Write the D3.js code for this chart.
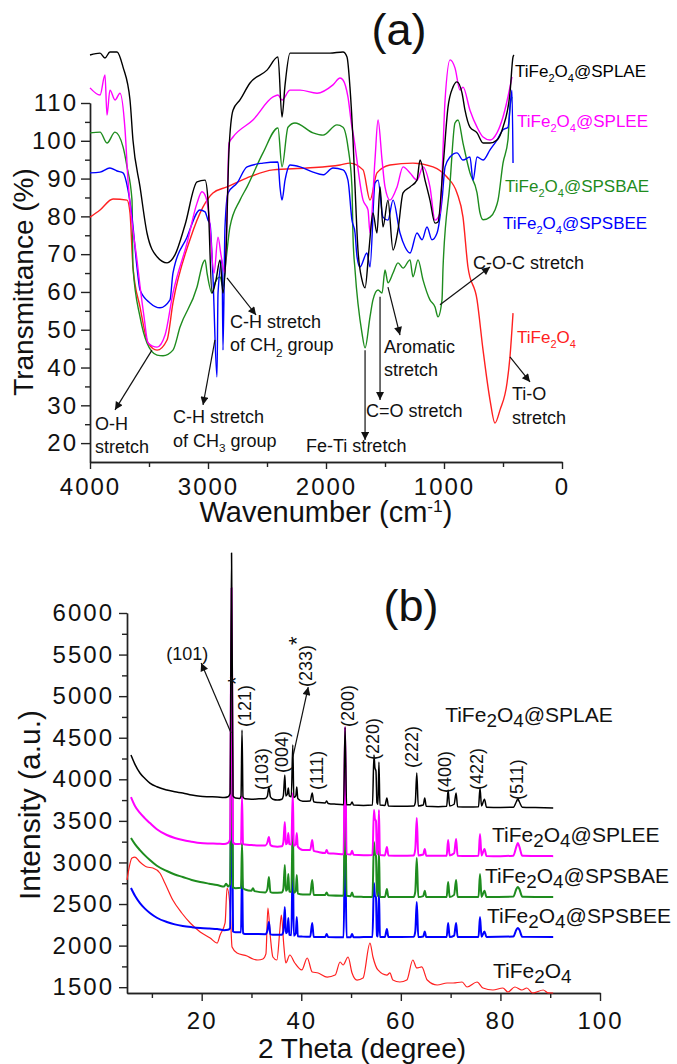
<!DOCTYPE html>
<html>
<head>
<meta charset="utf-8">
<script src="https://d3js.org/d3.v7.min.js"></script>
<style>
body { margin: 0; background: #fff; }
svg { display: block; font-family: "Liberation Sans", Arial, sans-serif; }
</style>
</head>
<body>
<svg id="chart" width="677" height="1064"></svg>
<script>
// ---------- (a) FTIR : [wavenumber (cm-1), transmittance (%)] ----------
const irSPLAE = [[4000,122.7],[3915,123.2],[3873,121.9],[3831,123.5],[3771,123.5],[3720,119.5],[3661,110.8],[3636,100.2],[3576,87.8],[3517,75.6],[3432,69.3],[3347,67.7],[3280,69.8],[3195,77.7],[3093,89.1],[3025,89.6],[3000,84.3],[2966,59.7],[2932,63.2],[2898,68.5],[2873,59.7],[2847,71.1],[2822,97.6],[2788,108.1],[2729,110.8],[2644,115.3],[2500,118.7],[2407,122.2],[2373,106.3],[2347,114.8],[2305,123.2],[2110,123.2],[1966,123.2],[1856,123.5],[1822,122.2],[1797,114.2],[1771,100.2],[1754,87.8],[1729,71.1],[1695,63.2],[1669,61.1],[1636,71.1],[1602,80.9],[1568,75.6],[1542,87.8],[1517,77.2],[1475,84.3],[1432,71.1],[1390,76.4],[1347,86.2],[1288,87.8],[1229,89.6],[1203,94.9],[1161,89.6],[1119,84.3],[1076,78.2],[1051,78.5],[1008,93.1],[966,108.9],[924,114.2],[890,115.6],[847,112.6],[822,108.1],[780,103.6],[720,102.1],[669,99.4],[610,99.4],[551,100.2],[500,103.6],[441,112.6],[415,122.2],[407,122.7]];
const irSPLEE = [[4000,114.0],[3915,112.1],[3873,117.4],[3856,106.8],[3831,113.4],[3788,110.8],[3746,112.6],[3703,102.9],[3678,89.6],[3636,76.4],[3602,68.5],[3576,61.5],[3542,53.4],[3508,46.5],[3432,45.4],[3364,48.6],[3297,59.7],[3178,72.9],[3093,83.5],[3051,86.5],[3017,85.0],[2992,80.4],[2949,65.0],[2915,74.5],[2890,69.8],[2856,65.0],[2839,80.1],[2822,99.4],[2788,101.0],[2619,105.5],[2449,111.6],[2407,112.1],[2373,110.8],[2305,113.4],[2220,113.4],[2076,112.6],[1941,114.8],[1881,116.6],[1856,116.1],[1814,111.6],[1780,103.6],[1771,102.1],[1686,84.3],[1644,81.7],[1627,75.6],[1585,94.9],[1559,105.5],[1525,94.9],[1500,87.8],[1458,84.3],[1398,87.8],[1347,93.1],[1288,91.5],[1229,89.6],[1178,93.1],[1119,87.8],[1076,79.0],[1034,80.9],[991,110.8],[949,121.4],[907,119.3],[864,113.4],[839,114.2],[780,108.1],[720,103.6],[669,101.0],[610,100.2],[551,102.1],[500,106.3],[441,114.2],[424,116.9]];
const irSPSBAE = [[4000,102.1],[3915,102.3],[3856,99.4],[3788,102.3],[3720,98.4],[3686,93.1],[3644,84.3],[3636,66.6],[3576,53.4],[3517,46.5],[3432,43.3],[3381,43.1],[3297,44.6],[3237,50.7],[3093,61.3],[3042,67.7],[3025,68.5],[3008,65.0],[2966,59.7],[2941,62.4],[2898,64.0],[2873,61.3],[2847,68.5],[2814,77.2],[2729,84.3],[2669,87.8],[2534,96.8],[2407,103.4],[2373,93.1],[2322,103.6],[2263,104.7],[2110,102.1],[2025,101.5],[1907,104.2],[1856,103.6],[1814,98.4],[1780,87.8],[1771,74.5],[1754,65.8],[1695,49.1],[1669,45.2],[1627,53.4],[1602,57.9],[1559,60.5],[1525,59.7],[1500,65.8],[1475,62.4],[1432,65.0],[1390,67.7],[1347,66.3],[1288,68.5],[1263,64.0],[1220,68.5],[1178,63.2],[1119,57.9],[1076,56.0],[1051,53.4],[1017,57.9],[1008,66.6],[949,88.8],[907,104.7],[881,105.5],[839,99.4],[780,91.5],[720,86.2],[695,80.9],[669,79.1],[610,79.8],[568,81.7],[542,84.3],[500,94.1],[458,100.2],[441,108.9],[424,111.6]];
const irSPSBEE = [[4000,91.5],[3915,91.7],[3831,92.8],[3771,92.0],[3720,91.5],[3678,87.0],[3644,79.8],[3602,66.6],[3576,60.5],[3492,57.1],[3407,55.8],[3322,57.9],[3297,65.0],[3178,74.5],[3068,81.7],[3025,81.2],[3000,79.0],[2983,78.0],[2958,64.0],[2924,37.5],[2915,59.7],[2881,68.5],[2873,44.6],[2856,77.2],[2830,86.2],[2754,88.8],[2669,93.1],[2534,94.1],[2407,94.4],[2390,87.8],[2373,84.3],[2347,89.6],[2305,93.6],[2220,93.1],[2110,91.7],[2025,91.0],[1941,92.8],[1856,92.3],[1814,89.6],[1780,79.0],[1754,75.6],[1737,69.3],[1712,66.6],[1653,70.3],[1627,66.6],[1585,88.8],[1559,89.6],[1517,79.8],[1475,79.0],[1432,84.3],[1373,75.6],[1330,71.9],[1288,70.3],[1229,75.6],[1186,73.8],[1144,77.2],[1102,73.8],[1059,75.6],[1017,84.3],[991,93.1],[949,95.7],[890,96.8],[839,94.9],[780,95.7],[754,89.6],[720,95.7],[669,94.9],[610,97.6],[551,100.2],[500,102.9],[458,103.6],[424,113.4],[415,94.1]];
const irTiFe2O4 = [[4000,79.8],[3915,81.7],[3805,84.6],[3686,84.3],[3661,80.9],[3636,66.6],[3576,56.0],[3508,46.5],[3432,44.6],[3347,47.3],[3297,57.1],[3153,73.8],[3042,82.5],[2958,86.2],[2839,87.8],[2669,90.2],[2449,92.3],[2161,92.8],[1881,93.6],[1797,94.1],[1686,92.3],[1627,84.3],[1568,91.5],[1458,93.6],[1263,94.1],[1093,93.1],[975,90.4],[890,86.2],[839,79.8],[797,66.6],[720,57.9],[669,44.6],[610,31.4],[568,25.3],[525,28.8],[466,35.9],[441,42.8],[415,54.4]];

const irXTicks = [4000, 3000, 2000, 1000, 0];
const irXMinor = [3500, 2500, 1500, 500];
const irYTicks = [20, 30, 40, 50, 60, 70, 80, 90, 100, 110];
const irYMinor = [25, 35, 45, 55, 65, 75, 85, 95, 105];

// ---------- (b) XRD : [2 theta (degree), intensity (a.u.)] ----------
const xrdSPLAE = [[5.8,4292],[6.6,4180],[7.6,4076],[8.6,4010],[9.6,3955],[11.0,3910],[13.0,3871],[14.6,3850],[16.2,3835],[18.0,3810],[19.7,3795],[21.5,3790],[23.1,3787],[24.5,3780],[25.3,3790],[25.7,3830],[26.0,6721],[26.3,3800],[26.8,3775],[27.6,3770],[27.9,3800],[28.1,4593],[28.3,3790],[28.7,3765],[30.0,3760],[31.5,3765],[32.8,3770],[33.2,3800],[33.5,3907],[33.8,3790],[34.3,3760],[35.2,3750],[36.1,3760],[36.4,3800],[36.7,4052],[36.9,3800],[37.2,3820],[37.4,3895],[37.6,3800],[38.0,3790],[38.3,4412],[38.5,3780],[38.9,3800],[39.1,3907],[39.3,3770],[40.3,3735],[41.8,3740],[42.2,3835],[42.5,3730],[43.5,3720],[44.8,3715],[45.1,3740],[45.4,3710],[47.0,3700],[48.5,3695],[48.8,4629],[49.1,3695],[49.9,3695],[50.2,3727],[50.5,3690],[52.5,3685],[54.3,3690],[54.6,4292],[54.8,4136],[55.0,4100],[55.2,3720],[55.4,3700],[55.6,4208],[55.8,3690],[56.8,3685],[57.2,3775],[57.5,3680],[60.0,3675],[62.6,3680],[62.9,3720],[63.2,4076],[63.5,3680],[64.5,3690],[64.8,3775],[65.1,3675],[67.5,3670],[69.2,3675],[69.5,3871],[69.8,3680],[70.7,3700],[71.1,3835],[71.4,3670],[73.5,3668],[75.6,3670],[75.9,3895],[76.2,3680],[76.8,3760],[77.2,3665],[80.0,3662],[82.6,3665],[83.2,3730],[83.5,3763],[83.8,3730],[84.4,3665],[87.0,3660],[90.6,3655]];
const xrdSPLEE = [[5.8,3787],[6.6,3680],[7.6,3595],[8.6,3530],[9.6,3474],[11.0,3400],[13.0,3330],[14.6,3295],[16.2,3270],[18.0,3250],[19.7,3234],[21.5,3228],[23.1,3226],[24.5,3222],[25.3,3235],[25.7,3280],[26.0,6300],[26.3,3240],[26.8,3222],[27.9,3225],[28.1,3800],[28.3,3225],[28.7,3215],[30.0,3210],[31.5,3205],[32.8,3205],[33.2,3240],[33.5,3306],[33.8,3210],[34.3,3195],[35.2,3190],[36.1,3195],[36.4,3240],[36.7,3486],[36.9,3220],[37.2,3240],[37.4,3354],[37.6,3220],[38.0,3215],[38.3,3835],[38.5,3200],[38.9,3220],[39.1,3354],[39.3,3190],[40.3,3150],[41.8,3150],[42.2,3270],[42.5,3140],[43.5,3125],[44.8,3114],[45.1,3150],[45.4,3110],[47.0,3105],[48.5,3100],[48.8,4629],[49.1,3100],[49.9,3095],[50.2,3140],[50.5,3092],[52.5,3088],[54.3,3090],[54.6,3630],[54.8,3520],[55.0,3500],[55.2,3110],[55.4,3100],[55.6,3630],[55.8,3090],[56.8,3085],[57.2,3186],[57.5,3085],[60.0,3082],[62.6,3085],[62.9,3160],[63.2,3535],[63.5,3085],[64.5,3095],[64.8,3162],[65.1,3082],[67.5,3080],[69.2,3082],[69.5,3270],[69.8,3085],[70.7,3110],[71.1,3282],[71.4,3080],[73.5,3078],[75.6,3080],[75.9,3342],[76.2,3085],[76.8,3162],[77.2,3078],[80.0,3076],[82.6,3082],[83.2,3190],[83.5,3234],[83.8,3190],[84.4,3080],[87.0,3078],[90.6,3076]];
const xrdSPSBAE = [[5.8,3294],[6.6,3220],[7.6,3149],[8.6,3085],[9.6,3029],[11.0,2960],[13.0,2897],[14.6,2855],[16.2,2825],[18.0,2790],[19.7,2765],[21.5,2745],[23.1,2729],[24.5,2710],[24.9,2745],[25.3,2712],[25.7,2740],[26.0,5200],[26.3,2700],[26.8,2690],[27.9,2695],[28.1,3234],[28.3,2690],[28.7,2675],[30.0,2660],[30.3,2690],[30.6,2655],[32.8,2640],[33.2,2680],[33.5,2825],[33.8,2645],[34.3,2635],[36.1,2640],[36.4,2680],[36.7,2969],[36.9,2660],[37.2,2680],[37.4,2861],[37.6,2650],[38.0,2645],[38.3,3500],[38.5,2635],[38.9,2660],[39.1,2849],[39.3,2625],[40.3,2615],[41.8,2615],[42.2,2789],[42.5,2610],[44.8,2608],[45.1,2640],[45.4,2606],[48.5,2600],[48.8,4000],[49.1,2600],[49.9,2595],[50.2,2640],[50.5,2590],[52.5,2586],[54.3,2584],[54.6,3246],[54.8,3100],[55.0,3080],[55.2,2600],[55.4,2600],[55.6,3150],[55.8,2584],[56.8,2584],[57.2,2680],[57.5,2584],[60.0,2584],[62.6,2586],[62.9,2650],[63.2,3053],[63.5,2584],[64.5,2595],[64.8,2660],[65.1,2584],[69.2,2584],[69.5,2765],[69.8,2584],[70.7,2610],[71.1,2789],[71.4,2584],[75.6,2584],[75.9,2861],[76.2,2586],[76.8,2660],[77.2,2584],[82.6,2590],[83.2,2680],[83.5,2705],[83.8,2680],[84.4,2588],[90.6,2584]];
const xrdSPSBEE = [[5.8,2693],[6.6,2600],[7.6,2512],[8.6,2445],[9.6,2392],[11.0,2335],[13.0,2284],[14.6,2255],[16.2,2236],[18.0,2222],[19.7,2212],[21.5,2205],[23.1,2200],[24.5,2185],[25.3,2190],[25.7,2210],[26.0,4300],[26.3,2170],[26.8,2160],[27.9,2160],[28.1,2900],[28.3,2150],[28.7,2140],[30.0,2140],[32.8,2138],[33.2,2180],[33.5,2284],[33.8,2135],[34.3,2130],[36.1,2130],[36.4,2170],[36.7,2464],[36.9,2150],[37.2,2170],[37.4,2332],[37.6,2130],[38.0,2125],[38.3,3100],[38.5,2120],[38.9,2150],[39.1,2344],[39.3,2112],[40.3,2108],[41.8,2106],[42.2,2272],[42.5,2104],[44.8,2103],[45.1,2140],[45.4,2103],[48.5,2100],[48.8,3300],[49.1,2100],[49.9,2100],[50.2,2140],[50.5,2100],[52.5,2102],[54.3,2103],[54.6,2752],[54.8,2600],[55.0,2580],[55.2,2120],[55.4,2110],[55.6,2657],[55.8,2103],[56.8,2103],[57.2,2200],[57.5,2103],[60.0,2103],[62.6,2105],[62.9,2170],[63.2,2524],[63.5,2103],[64.5,2110],[64.8,2170],[65.1,2103],[69.2,2103],[69.5,2272],[69.8,2103],[70.7,2120],[71.1,2272],[71.4,2103],[75.6,2103],[75.9,2344],[76.2,2105],[76.8,2170],[77.2,2103],[82.6,2110],[83.2,2190],[83.5,2212],[83.8,2190],[84.4,2105],[90.6,2103]];
const xrdTiFe2O4 = [[5.0,2789],[6.0,3053],[6.6,3065],[7.6,3005],[9.0,2945],[10.2,2933],[11.6,2873],[12.6,2753],[14.2,2548],[16.0,2392],[17.7,2272],[19.7,2164],[21.7,2091],[23.1,2031],[23.7,2128],[24.7,2272],[25.1,2693],[25.7,2464],[26.1,1983],[27.1,1911],[29.1,1875],[30.3,1839],[31.3,1827],[32.3,1839],[32.9,1900],[33.3,2452],[33.8,2100],[34.3,1863],[35.1,1827],[35.7,2188],[36.0,2368],[36.5,2000],[36.9,1791],[37.7,1887],[38.7,1791],[40.1,1707],[41.2,1851],[42.2,1683],[43.4,1671],[45.2,1622],[46.8,1646],[47.8,1803],[48.4,1767],[49.4,1863],[50.2,1671],[51.2,1586],[52.4,1610],[53.8,2031],[54.4,1863],[55.4,1707],[57.2,1646],[57.8,1671],[58.4,1586],[59.8,1562],[61.2,1586],[62.4,1827],[63.2,1731],[64.2,1743],[65.3,1586],[67.3,1526],[69.3,1550],[70.5,1550],[72.3,1562],[73.3,1502],[75.3,1562],[76.5,1490],[78.5,1466],[80.5,1490],[81.5,1442],[82.9,1502],[84.3,1466],[85.3,1490],[86.5,1430],[88.6,1466],[89.6,1432],[90.6,1430]];

const xrdXTicks = [20, 40, 60, 80, 100];
const xrdXMinor = [10, 30, 50, 70, 90];
const xrdYTicks = [1500, 2000, 2500, 3000, 3500, 4000, 4500, 5000, 5500, 6000];
const xrdYMinor = [1750, 2250, 2750, 3250, 3750, 4250, 4750, 5250, 5750];

const sampleNames = ["@SPLAE", "@SPLEE", "@SPSBAE", "@SPSBEE", ""];
const sampleColors = ["#000000", "#ff00ff", "#1e8c1e", "#0000ff", "#ff2020"];

// label anchors (data coords)
const irLabelAt = [[398,116.9],[381,103.6],[483,86.5],[500,76.7],[381,46.5]];
const xrdLabelAt = [[68.9,4689],[78.3,3246],[76.9,2753],[77.3,2272],[78.5,1610]];

const irNotes = [
  {lines: [[["O-H",0]], [["stretch",0]]], at: [3958,23.5], from: [3475,44.6], to: [3788,28.8]},
  {lines: [[["C-H stretch",0]], [["of CH",0],["3",1],[" group",0]]], at: [3297,25.3], from: [2941,47.3], to: [3042,30.1]},
  {lines: [[["C-H stretch",0]], [["of CH",0],["2",1],[" group",0]]], at: [2814,50.5], from: [2839,63.7], to: [2593,53.9]},
  {lines: [[["Fe-Ti stretch",0]]], at: [2169,17.7], from: [1669,44.6], to: [1669,20.8]},
  {lines: [[["C=O stretch",0]]], at: [1661,26.9], from: [1542,58.7], to: [1542,31.4]},
  {lines: [[["Aromatic",0]], [["stretch",0]]], at: [1508,43.9], from: [1475,61.3], to: [1373,48.6]},
  {lines: [[["C-O-C stretch",0]]], at: [754,66.1], from: [1034,56.6], to: [610,66.6]},
  {lines: [[["Ti-O",0]], [["stretch",0]]], at: [424,31.4], from: [441,42.8], to: [271,36.2]}
];

const hklLabels = [
  {t: "(121)", star: true, at: [28.7,4629]},
  {t: "(103)", at: [32.1,3871]},
  {t: "(004)", at: [36.1,4076]},
  {t: "(233)", star: true, at: [40.8,5110]},
  {t: "(111)", at: [43.0,3871]},
  {t: "(200)", at: [49.4,4629]},
  {t: "(220)", at: [54.4,4232]},
  {t: "(222)", at: [62.2,4136]},
  {t: "(400)", at: [68.9,3835]},
  {t: "(422)", at: [75.3,3871]},
  {t: "(511)", at: [83.3,3751]}
];
const xrdArrows = [
  {from: [25.9,4557], to: [19.9,5399]},
  {from: [38.3,4268], to: [41.4,5110]}
];

// ---------- drawing ----------
const svg = d3.select("#chart");
svg.append("rect").attr("width", 677).attr("height", 1064).attr("fill", "#fff");

svg.append("defs").append("marker")
  .attr("id", "arrow")
  .attr("viewBox", "0 0 10 10")
  .attr("refX", 10).attr("refY", 5)
  .attr("markerWidth", 10).attr("markerHeight", 8)
  .attr("markerUnits", "userSpaceOnUse")
  .attr("orient", "auto")
  .append("path").attr("d", "M0,0L10,5L0,10z").attr("fill", "#111");

const x1 = d3.scaleLinear().domain([4000, 0]).range([90, 562]);
const y1 = d3.scaleLinear().domain([15, 110]).range([462, 103]);
const x2 = d3.scaleLinear().domain([5, 100]).range([127, 600]);
const y2 = d3.scaleLinear().domain([1430, 6000]).range([993, 613]);
const fmt = d3.format("d");

// rich text: segments [text, mode] mode 0 normal, 1 subscript, -1 superscript
function rich(sel, segs, fs, subScale, subShift) {
  let off = 0;
  segs.forEach(([t, m]) => {
    const target = m === 1 ? fs * subShift : m === -1 ? -fs * 0.36 : 0;
    sel.append("tspan")
      .attr("dy", target - off)
      .style("font-size", (m === 0 ? fs : fs * subScale) + "px")
      .text(t);
    off = target;
  });
}

function styleAxis(g, labels) {
  g.attr("font-size", null).attr("font-family", null);
  g.select(".domain").attr("stroke", "#222").attr("stroke-width", 1.4);
  g.selectAll(".tick line").attr("stroke", "#222").attr("stroke-width", 1.4);
  if (labels) {
    g.selectAll(".tick text").attr("fill", "#111")
      .style("font-size", "24px").style("letter-spacing", "2px");
  }
}

// ----- panel (a) -----
const ga = svg.append("g");
ga.append("g").attr("transform", "translate(90,0)")
  .call(d3.axisLeft(y1).tickValues(irYMinor).tickSize(5).tickFormat("").tickSizeOuter(0))
  .call(g => styleAxis(g, false));
ga.append("g").attr("transform", "translate(90,0)")
  .call(d3.axisLeft(y1).tickValues(irYTicks).tickFormat(fmt).tickSize(9).tickPadding(3).tickSizeOuter(0))
  .call(g => styleAxis(g, true));
ga.append("g").attr("transform", "translate(0,462)")
  .call(d3.axisBottom(x1).tickValues(irXMinor).tickSize(5).tickFormat("").tickSizeOuter(0))
  .call(g => styleAxis(g, false));
ga.append("g").attr("transform", "translate(0,462)")
  .call(d3.axisBottom(x1).tickValues(irXTicks).tickFormat(fmt).tickSize(7).tickPadding(9).tickSizeOuter(0))
  .call(g => styleAxis(g, true));

const irLine = d3.line().x(d => x1(d[0])).y(d => y1(d[1])).curve(d3.curveMonotoneX);
const irSeries = [irSPLAE, irSPLEE, irSPSBAE, irSPSBEE, irTiFe2O4];
[4, 2, 3, 1, 0].forEach(i => {
  ga.append("path").datum(irSeries[i])
    .attr("d", irLine).attr("fill", "none")
    .attr("stroke", sampleColors[i]).attr("stroke-width", 1.4)
    .attr("stroke-linejoin", "round");
});

irLabelAt.forEach((p, i) => {
  const t = ga.append("text").attr("x", x1(p[0])).attr("y", y1(p[1]))
    .attr("fill", sampleColors[i]);
  rich(t, [["TiFe",0],["2",1],["O",0],["4",1],[sampleNames[i],0]], 17, 0.65, 0.3);
});

irNotes.forEach(n => {
  ga.append("line")
    .attr("x1", x1(n.from[0])).attr("y1", y1(n.from[1]))
    .attr("x2", x1(n.to[0])).attr("y2", y1(n.to[1]))
    .attr("stroke", "#111").attr("stroke-width", 1.2)
    .attr("marker-end", "url(#arrow)");
  n.lines.forEach((segs, k) => {
    const t = ga.append("text").attr("x", x1(n.at[0])).attr("y", y1(n.at[1]) + k * 23.5)
      .attr("fill", "#111");
    rich(t, segs, 18, 0.65, 0.3);
  });
});

ga.append("text").attr("x", 399).attr("y", 45).attr("text-anchor", "middle")
  .style("font-size", "45px").attr("fill", "#111").text("(a)");
const xta = ga.append("text").attr("x", 326).attr("y", 522).attr("text-anchor", "middle").attr("fill", "#111");
rich(xta, [["Wavenumber (cm",0],["-1",-1],[")",0]], 29, 0.6, 0);
ga.append("text").attr("transform", "translate(33,282) rotate(-90)")
  .attr("text-anchor", "middle").style("font-size", "28px").attr("fill", "#111")
  .text("Transmittance (%)");

// ----- panel (b) -----
const gb = svg.append("g");
gb.append("g").attr("transform", "translate(127,0)")
  .call(d3.axisLeft(y2).tickValues(xrdYMinor).tickSize(5).tickFormat("").tickSizeOuter(0))
  .call(g => styleAxis(g, false));
gb.append("g").attr("transform", "translate(127,0)")
  .call(d3.axisLeft(y2).tickValues(xrdYTicks).tickFormat(fmt).tickSize(8).tickPadding(5).tickSizeOuter(0))
  .call(g => styleAxis(g, true));
gb.append("g").attr("transform", "translate(0,993)")
  .call(d3.axisBottom(x2).tickValues(xrdXMinor).tickSize(5).tickFormat("").tickSizeOuter(0))
  .call(g => styleAxis(g, false));
gb.append("g").attr("transform", "translate(0,993)")
  .call(d3.axisBottom(x2).tickValues(xrdXTicks).tickFormat(fmt).tickSize(8).tickPadding(11).tickSizeOuter(0))
  .call(g => styleAxis(g, true));

const xrdLine = d3.line().x(d => x2(d[0])).y(d => y2(d[1])).curve(d3.curveMonotoneX);
const xrdSeries = [xrdSPLAE, xrdSPLEE, xrdSPSBAE, xrdSPSBEE, xrdTiFe2O4];
const xrdWidth = [1.5, 2, 2, 2, 1.2];
[4, 3, 2, 1, 0].forEach(i => {
  gb.append("path").datum(xrdSeries[i])
    .attr("d", xrdLine).attr("fill", "none")
    .attr("stroke", sampleColors[i]).attr("stroke-width", xrdWidth[i])
    .attr("stroke-linejoin", "round");
});

xrdLabelAt.forEach((p, i) => {
  const t = gb.append("text").attr("x", x2(p[0])).attr("y", y2(p[1])).attr("fill", "#111");
  rich(t, [["TiFe",0],["2",1],["O",0],["4",1],[sampleNames[i],0]], 21, 0.9, 0.22);
});

hklLabels.forEach(h => {
  const t = gb.append("text")
    .attr("transform", `translate(${x2(h.at[0])},${y2(h.at[1])}) rotate(-90)`)
    .attr("dy", "0.35em").attr("fill", "#111").style("font-size", "18px");
  t.append("tspan").text(h.t);
  if (h.star) t.append("tspan").attr("dy", -8).style("font-size", "22px").text("*");
});
gb.append("text").attr("x", x2(17.1)).attr("y", y2(5435)).attr("text-anchor", "middle")
  .style("font-size", "18px").attr("fill", "#111").text("(101)");
xrdArrows.forEach(a => {
  gb.append("line")
    .attr("x1", x2(a.from[0])).attr("y1", y2(a.from[1]))
    .attr("x2", x2(a.to[0])).attr("y2", y2(a.to[1]))
    .attr("stroke", "#111").attr("stroke-width", 1.2)
    .attr("marker-end", "url(#arrow)");
});

gb.append("text").attr("x", 411).attr("y", 621).attr("text-anchor", "middle")
  .style("font-size", "45px").attr("fill", "#111").text("(b)");
gb.append("text").attr("x", 362).attr("y", 1058).attr("text-anchor", "middle")
  .style("font-size", "28px").attr("fill", "#111").text("2 Theta (degree)");
gb.append("text").attr("transform", "translate(40,805) rotate(-90)")
  .attr("text-anchor", "middle").style("font-size", "30px").attr("fill", "#111")
  .text("Intensity (a.u.)");
</script>
</body>
</html>
